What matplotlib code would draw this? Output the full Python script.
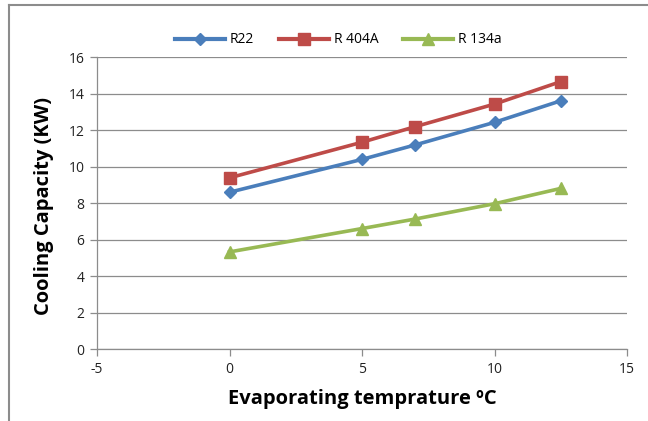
import matplotlib.pyplot as plt
from matplotlib.lines import Line2D

# evaporating temperature (deg C) and cooling capacity (kW)
temp = [0, 5, 7, 10, 12.5]
r22 = [8.59, 10.39, 11.18, 12.42, 13.6]
r404a = [9.38, 11.33, 12.18, 13.42, 14.65]
r134a = [5.32, 6.6, 7.12, 7.96, 8.8]

labels = ['R22', 'R 404A', 'R 134a']
colors = ['#4A7EBB', '#BE4B48', '#98B954']
markers = ['D', 's', '^']
msizes = [6, 8, 8]

plt.rcParams['font.family'] = ['Open Sans', 'DejaVu Sans']
plt.rcParams['axes.unicode_minus'] = False

fig = plt.figure(figsize=(6.48, 4.21), dpi=100)
ax = fig.add_axes([0.1497, 0.171, 0.8179, 0.6936])

for vals, lab, c, m, ms in zip([r22, r404a, r134a], labels, colors, markers, msizes):
    ax.plot(temp, vals, color=c, linewidth=2.6, marker=m, markersize=ms,
            label=lab, zorder=3)

ax.set_xlim(-5, 15)
ax.set_ylim(0, 16)
ax.set_xticks(range(-5, 16, 5))
ax.set_yticks(range(0, 17, 2))
ax.grid(axis='y', color='#8c8c8c', linewidth=0.9)
ax.set_axisbelow(True)
for s in ['top', 'right']:
    ax.spines[s].set_visible(False)
for s in ['left', 'bottom']:
    ax.spines[s].set_color('#8c8c8c')
    ax.spines[s].set_linewidth(0.9)
ax.tick_params(axis='both', colors='#8c8c8c', length=5, width=0.9,
               labelsize=10, labelcolor='#222222', pad=4)

ax.set_xlabel('Evaporating temprature ºC', fontsize=14.5, fontweight='bold',
              labelpad=9)
ax.set_ylabel('Cooling Capacity (KW)', fontsize=14.5, fontweight='bold')
ax.yaxis.set_label_coords(-0.082, 0.49)

handles = [Line2D([0], [0], color=c, linewidth=3, marker=m, markersize=ms)
           for c, m, ms in zip(colors, markers, msizes)]
fig.legend(handles, labels, loc='center', bbox_to_anchor=(0.522, 0.905),
           ncol=3, frameon=False, fontsize=10, handlelength=3.6,
           columnspacing=1.8, handletextpad=0.35)

# chart border (top and left edges visible in the crop)
fig.add_artist(Line2D([0.0145, 0.0145], [0, 0.988], color='#8c8c8c',
                      linewidth=1.5, transform=fig.transFigure))
fig.add_artist(Line2D([0.0145, 1], [0.988, 0.988], color='#8c8c8c',
                      linewidth=1.5, transform=fig.transFigure))

fig.savefig('out.png', dpi=100)
